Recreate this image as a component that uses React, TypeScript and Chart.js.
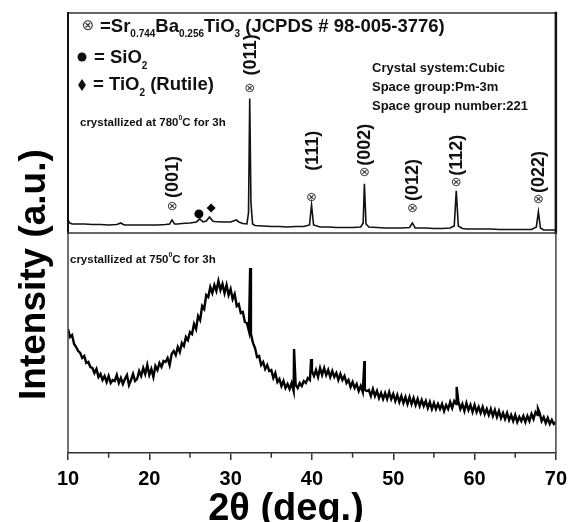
import React, { useEffect, useRef } from 'react';
import { Chart, registerables } from 'chart.js';

Chart.register(...registerables);

// ---------- data ----------
const xTicks = [10, 20, 30, 40, 50, 60, 70];
const xMinorTicks = [15, 25, 35, 45, 55, 65];

// crystallized at 780 °C (top panel)
const topAngles = [10, 10.2, 10.5, 11, 12, 13, 14, 15, 16, 16.5, 16.8, 17, 18, 19, 20, 21, 22, 22.5, 22.8, 23.1, 23.5, 24, 25, 25.8, 26.2, 26.6, 27.0, 27.4, 27.8, 28, 29, 30, 30.7, 31, 31.5, 32.0, 32.2, 32.35, 32.5, 32.7, 33, 34, 35, 36, 37, 38, 39, 39.7, 39.95, 40.2, 41, 42, 43, 44, 45, 46, 46.3, 46.45, 46.65, 47, 48, 49, 50, 51, 52, 52.35, 52.7, 53, 54, 55, 56, 57, 57.5, 57.75, 58.0, 58.5, 59, 60, 61, 62, 63, 64, 65, 66, 67, 67.6, 67.85, 68.1, 68.5, 69, 70];
const topIntensity = [13, 10, 9, 9, 9, 8.5, 8.5, 8, 8.5, 10, 8.5, 8, 8, 8, 8, 8, 8.5, 9, 13, 9, 9, 9.5, 10, 11, 14, 11, 12, 16, 12, 11.5, 11, 11, 13, 11, 9.5, 9, 20, 134, 30, 9, 7.5, 7, 6.5, 6.5, 6, 6.5, 6.5, 8, 28, 8, 6, 6, 5.5, 5.5, 5.5, 6, 10, 49, 9, 6, 5.5, 5, 5, 5, 5.5, 10, 5, 5, 5, 4.5, 4.5, 5, 7, 42, 7, 4.5, 4, 4, 4, 4, 3.5, 3.5, 3.5, 3.5, 3.5, 6, 21, 5, 3, 3, 3];

// crystallized at 750 °C (bottom panel), sampled every 0.25° from 10° to 70°
const bottomStartAngle = 10;
const bottomStepAngle = 0.25;
const bottomIntensity = [
  124, 116, 118, 109, 106, 102, 100, 95, 97, 90, 91, 86, 85, 80, 84, 76,
  79, 73, 77, 71, 77, 70, 73, 72, 78, 70, 75, 69, 74, 78, 68, 73,
  79, 72, 74, 82, 77, 85, 79, 88, 78, 84, 76, 87, 83, 90, 86, 92,
  91, 95, 88, 99, 102, 98, 106, 101, 110, 107, 116, 113, 121, 119, 129, 124,
  137, 133, 147, 144, 158, 156, 166, 160, 168, 162, 172, 163, 169, 160, 168, 158,
  164, 154, 159, 147, 149, 140, 141, 131, 130, 122, 119, 110, 105, 96, 97, 88,
  91, 84, 88, 82, 83, 75, 80, 71, 74, 67, 72, 65, 69, 64, 70, 62,
  68, 65, 70, 67, 72, 70, 75, 73, 82, 77, 83, 76, 85, 78, 85, 78,
  83, 76, 82, 76, 80, 73, 79, 73, 77, 70, 73, 66, 71, 65, 69, 62,
  67, 61, 63, 62, 63, 57, 64, 57, 62, 55, 60, 54, 60, 54, 61, 54,
  59, 52, 58, 51, 57, 50, 56, 49, 56, 49, 55, 48, 54, 47, 53, 47,
  52, 45, 51, 44, 50, 44, 49, 44, 49, 42, 48, 44, 51, 45, 52, 49,
  52, 44, 49, 42, 50, 43, 48, 41, 48, 41, 46, 40, 46, 39, 44, 38,
  44, 37, 43, 36, 42, 35, 40, 34, 40, 33, 38, 32, 38, 31, 36, 32,
  37, 31, 37, 32, 39, 34, 41, 38, 40, 32, 36, 30, 35, 29, 33, 29,
  31,
];
const bottomPeakAngles = [32.4, 37.8, 39.9, 46.45, 57.8, 67.8];
const bottomPeakIntensity = [185, 104, 94, 92, 66, 44];

// indexed reflections of Sr0.744Ba0.256TiO3
const peakAngles = [22.8, 32.35, 39.95, 46.45, 52.35, 57.75, 67.85];
const peakLabels = ['(001)', '(011)', '(111)', '(002)', '(012)', '(112)', '(022)'];

// secondary phases
const sio2Angles = [26.1];
const sio2Marks = [19];
const tio2Angles = [27.6];
const tio2Marks = [25];

// ---------- presentation ----------
const FONT = "'Liberation Sans', Arial, Helvetica, sans-serif";
const SYMFONT = "'DejaVu Sans', sans-serif";
// per-peak placement of the ⊗ marker and its label (pixels above the peak top)
const markerGap = [13, 10, 7, 11, 14, 8, 12];
const labelGap = [9, 13, 27, 7, 8, 7, 7];

type Run = { text: string; size: number; dy?: number };
function drawRuns(ctx: CanvasRenderingContext2D, x: number, y: number, runs: Run[]) {
  let cx = x;
  for (const r of runs) {
    ctx.font = `bold ${r.size}px ${FONT}`;
    ctx.fillText(r.text, cx, y + (r.dy || 0));
    cx += ctx.measureText(r.text).width;
  }
}

const decorPlugin = {
  id: 'decor',
  afterDraw(chart: any) {
    const ctx: CanvasRenderingContext2D = chart.ctx;
    const xs = chart.scales.x;
    const yT = chart.scales.yTop;
    const yB = chart.scales.yBot;
    const L = chart.chartArea.left;
    const R = chart.chartArea.right;
    ctx.save();

    // panel frames
    ctx.lineCap = 'square';
    ctx.strokeStyle = '#666';
    ctx.lineWidth = 2;
    ctx.beginPath();
    ctx.moveTo(L, yT.top);
    ctx.lineTo(R, yT.top);
    ctx.moveTo(L, yT.bottom);
    ctx.lineTo(R, yT.bottom);
    ctx.stroke();
    ctx.strokeStyle = '#111';
    ctx.beginPath();
    ctx.moveTo(L, yT.top);
    ctx.lineTo(L, yT.bottom);
    ctx.stroke();
    ctx.lineWidth = 2.5;
    ctx.beginPath();
    ctx.moveTo(R, yT.top);
    ctx.lineTo(R, yT.bottom);
    ctx.stroke();
    ctx.strokeStyle = '#444';
    ctx.lineWidth = 1.5;
    ctx.beginPath();
    ctx.moveTo(L, yB.top);
    ctx.lineTo(L, yB.bottom);
    ctx.moveTo(R, yB.top);
    ctx.lineTo(R, yB.bottom);
    ctx.stroke();

    // minor x ticks
    ctx.strokeStyle = '#333';
    ctx.lineWidth = 1.5;
    ctx.beginPath();
    for (const v of xMinorTicks) {
      const px = xs.getPixelForValue(v);
      ctx.moveTo(px, yB.bottom);
      ctx.lineTo(px, yB.bottom + 4);
    }
    ctx.stroke();

    ctx.fillStyle = '#111';
    ctx.textBaseline = 'alphabetic';
    ctx.textAlign = 'left';

    // legend block
    ctx.font = `15px ${SYMFONT}`;
    ctx.textAlign = 'center';
    ctx.textBaseline = 'middle';
    ctx.fillStyle = '#333';
    ctx.fillText('\u2297', 88, 26);
    ctx.fillStyle = '#111';
    ctx.textAlign = 'left';
    ctx.textBaseline = 'alphabetic';
    drawRuns(ctx, 100, 32, [
      { text: '=Sr', size: 18.5 },
      { text: '0.744', size: 10, dy: 5 },
      { text: 'Ba', size: 18.5 },
      { text: '0.256', size: 10, dy: 5 },
      { text: 'TiO', size: 18.5 },
      { text: '3', size: 10, dy: 5 },
      { text: ' (JCPDS # 98-005-3776)', size: 18.5 },
    ]);
    ctx.beginPath();
    ctx.arc(82, 57, 4.5, 0, Math.PI * 2);
    ctx.fill();
    drawRuns(ctx, 94, 63, [
      { text: '= SiO', size: 18.5 },
      { text: '2', size: 10, dy: 6 },
    ]);
    ctx.beginPath();
    ctx.moveTo(82, 79);
    ctx.lineTo(86, 85);
    ctx.lineTo(82, 91);
    ctx.lineTo(78, 85);
    ctx.closePath();
    ctx.fill();
    drawRuns(ctx, 93, 90, [
      { text: '= TiO', size: 18.5 },
      { text: '2', size: 10, dy: 6 },
      { text: ' (Rutile)', size: 18.5 },
    ]);

    // crystal info
    ctx.font = `bold 13px ${FONT}`;
    ctx.fillText('Crystal system:Cubic', 372, 72);
    ctx.fillText('Space group:Pm-3m', 372, 91);
    ctx.fillText('Space group number:221', 372, 110);

    // sample labels
    drawRuns(ctx, 80, 126, [
      { text: 'crystallized at 780', size: 11.5 },
      { text: '0', size: 7, dy: -6 },
      { text: 'C for 3h', size: 11.5 },
    ]);
    drawRuns(ctx, 70, 263, [
      { text: 'crystallized at 750', size: 11.5 },
      { text: '0', size: 7, dy: -6 },
      { text: 'C for 3h', size: 11.5 },
    ]);

    // peak markers and Miller indices
    peakAngles.forEach((a, i) => {
      const idx = topAngles.indexOf(a);
      const h = topIntensity[idx];
      const px = xs.getPixelForValue(a);
      const top = yT.getPixelForValue(h);
      const cy = top - markerGap[i];
      ctx.font = `13px ${SYMFONT}`;
      ctx.textAlign = 'center';
      ctx.textBaseline = 'middle';
      ctx.fillStyle = '#333';
      ctx.fillText('\u2297', px, cy);
      ctx.fillStyle = '#111';
      ctx.save();
      ctx.translate(px + 1, cy - labelGap[i]);
      ctx.rotate(-Math.PI / 2);
      ctx.font = `bold 18px ${FONT}`;
      ctx.textAlign = 'left';
      ctx.textBaseline = 'middle';
      ctx.fillText(peakLabels[i], 0, 0);
      ctx.restore();
    });

    // axis titles
    ctx.fillStyle = '#000';
    ctx.textAlign = 'left';
    ctx.textBaseline = 'alphabetic';
    ctx.save();
    ctx.translate(45, 400);
    ctx.rotate(-Math.PI / 2);
    ctx.font = `bold 37px ${FONT}`;
    ctx.fillText('Intensity (a.u.)', 0, 0);
    ctx.restore();
    ctx.font = `bold 38px ${FONT}`;
    ctx.textAlign = 'center';
    ctx.fillText('2\u03b8 (deg.)', 286, 520);

    ctx.restore();
  },
};

export default function App() {
  const ref = useRef<HTMLCanvasElement>(null);
  useEffect(() => {
    const topPoints = topAngles.map((a, i) => ({ x: a, y: topIntensity[i] }));
    const bottomPoints = bottomIntensity.map((v, i) => ({ x: bottomStartAngle + i * bottomStepAngle, y: v }));
    bottomPeakAngles.forEach((a, i) => bottomPoints.push({ x: a, y: bottomPeakIntensity[i] }));
    bottomPoints.sort((p, q) => p.x - q.x);

    const chart = new Chart(ref.current as HTMLCanvasElement, {
      type: 'line',
      data: {
        datasets: [
          {
            data: topPoints,
            xAxisID: 'x',
            yAxisID: 'yTop',
            borderColor: '#111',
            borderWidth: 1.6,
            pointRadius: 0,
            tension: 0,
          },
          {
            data: bottomPoints,
            xAxisID: 'x',
            yAxisID: 'yBot',
            borderColor: '#000',
            borderWidth: 2.4,
            pointRadius: 0,
            tension: 0,
          },
          {
            type: 'scatter',
            data: sio2Angles.map((a, i) => ({ x: a, y: sio2Marks[i] })),
            xAxisID: 'x',
            yAxisID: 'yTop',
            pointStyle: 'circle',
            pointRadius: 4.5,
            backgroundColor: '#000',
            borderColor: '#000',
            borderWidth: 0,
          },
          {
            type: 'scatter',
            data: tio2Angles.map((a, i) => ({ x: a, y: tio2Marks[i] })),
            xAxisID: 'x',
            yAxisID: 'yTop',
            pointStyle: 'rectRot',
            pointRadius: 4.5,
            backgroundColor: '#000',
            borderColor: '#000',
            borderWidth: 0,
          },
        ] as any,
      },
      options: {
        animation: false,
        responsive: false,
        maintainAspectRatio: false,
        events: [],
        layout: { padding: { left: 68, right: 9, top: 13, bottom: 24 } },
        plugins: { legend: { display: false }, tooltip: { enabled: false } },
        scales: {
          x: {
            type: 'linear',
            position: 'bottom',
            min: 10,
            max: 70,
            afterBuildTicks: (s: any) => {
              s.ticks = xTicks.map((v) => ({ value: v }));
            },
            ticks: {
              color: '#000',
              padding: 7,
              maxRotation: 0,
              font: { family: FONT, size: 20, weight: 'bold' },
            },
            grid: {
              display: true,
              drawOnChartArea: false,
              drawTicks: true,
              tickLength: 7,
              color: '#333',
              lineWidth: 1.5,
            },
            border: { display: true, color: '#333', width: 1.5 },
          },
          yBot: {
            type: 'linear',
            position: 'left',
            stack: 'panels',
            stackWeight: 1,
            min: 0,
            max: 220,
            ticks: { display: false },
            grid: { display: false, drawTicks: false },
            border: { display: false },
          },
          yTop: {
            type: 'linear',
            position: 'left',
            stack: 'panels',
            stackWeight: 1,
            min: 0,
            max: 219,
            ticks: { display: false },
            grid: { display: false, drawTicks: false },
            border: { display: false },
          },
        },
      } as any,
      plugins: [decorPlugin],
    });
    return () => chart.destroy();
  }, []);

  return (
    <div style={{ position: 'fixed', left: 0, top: 0, width: 568, height: 522, overflow: 'hidden', background: '#fff' }}>
      <canvas ref={ref} width={574} height={522} style={{ display: 'block', width: 574, height: 522 }} />
    </div>
  );
}
